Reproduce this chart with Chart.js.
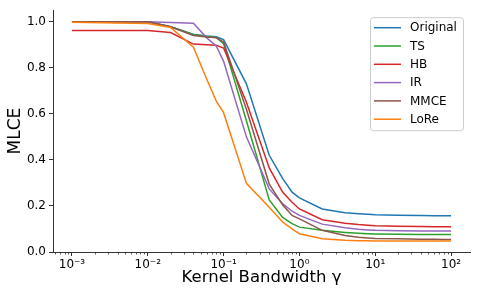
<!DOCTYPE html>
<html>
<head>
<meta charset="utf-8">
<script src="https://cdn.jsdelivr.net/npm/chart.js@4.4.1/dist/chart.umd.min.js"></script>
<style>
  html, body { margin: 0; padding: 0; background: #fff; }
  #c { display: block; }
</style>
</head>
<body>
<canvas id="c" width="479" height="299"></canvas>
<script>
// ---- data ----
const gammaValues = [0.001, 0.01, 0.02, 0.04, 0.06, 0.08, 0.1, 0.2, 0.4, 0.6, 0.8, 1, 2, 4, 6, 8, 10, 20, 40, 60, 80, 100];
const seriesNames = ['Original', 'TS', 'HB', 'IR', 'MMCE', 'LoRe'];
const original = [1.0, 1.0, 0.978, 0.945, 0.938, 0.935, 0.922, 0.73, 0.42, 0.32, 0.26, 0.235, 0.187, 0.170, 0.166, 0.164, 0.162, 0.160, 0.158, 0.157, 0.157, 0.157];
const ts       = [1.0, 1.0, 0.978, 0.945, 0.936, 0.932, 0.905, 0.57, 0.226, 0.15, 0.123, 0.108, 0.094, 0.085, 0.081, 0.079, 0.078, 0.077, 0.076, 0.076, 0.076, 0.076];
const hb       = [0.962, 0.962, 0.953, 0.903, 0.900, 0.898, 0.886, 0.65, 0.365, 0.26, 0.216, 0.187, 0.140, 0.125, 0.119, 0.116, 0.114, 0.112, 0.111, 0.110, 0.110, 0.110];
const ir       = [1.0, 1.0, 0.997, 0.993, 0.93, 0.895, 0.828, 0.50, 0.274, 0.21, 0.177, 0.159, 0.121, 0.105, 0.099, 0.096, 0.094, 0.092, 0.091, 0.091, 0.091, 0.091];
const mmce     = [1.0, 1.0, 0.978, 0.94, 0.934, 0.93, 0.912, 0.62, 0.295, 0.205, 0.159, 0.144, 0.094, 0.072, 0.064, 0.061, 0.059, 0.057, 0.055, 0.055, 0.054, 0.054];
const lore     = [0.998, 0.992, 0.975, 0.889, 0.75, 0.655, 0.605, 0.298, 0.194, 0.13, 0.10, 0.079, 0.058, 0.051, 0.049, 0.049, 0.048, 0.048, 0.048, 0.048, 0.048, 0.048];
const xTickValues = [0.001, 0.01, 0.1, 1, 10, 100];
const xTickLabels = ['10\u207B\u00B3', '10\u207B\u00B2', '10\u207B\u00B9', '10\u2070', '10\u00B9', '10\u00B2'];
const yTickValues = [0.0, 0.2, 0.4, 0.6, 0.8, 1.0];

// ---- styling ----
const seriesColors = ['#1f77b4', '#2ca02c', '#d62728', '#9467bd', '#8c564b', '#ff7f0e'];
const allSeries = [original, ts, hb, ir, mmce, lore];
const FONT = 'DejaVu Sans';
const AXIS = '#333333';

const datasets = allSeries.map((vals, i) => ({
  label: seriesNames[i],
  data: gammaValues.map((g, j) => ({ x: g, y: vals[j] })),
  borderColor: seriesColors[i],
  backgroundColor: seriesColors[i],
  borderWidth: 1.5,
  pointRadius: 0,
  tension: 0,
  fill: false,
  order: allSeries.length - i
}));

const minorTicks = {
  id: 'minorTicks',
  afterDraw(chart) {
    const s = chart.scales.x;
    const ctx = chart.ctx;
    const y0 = chart.chartArea.bottom;
    ctx.save();
    ctx.strokeStyle = AXIS;
    ctx.lineWidth = 0.8;
    for (let d = -4; d <= 2; d++) {
      for (let m = 2; m <= 9; m++) {
        const v = m * Math.pow(10, d);
        if (v < s.min || v > s.max) continue;
        const px = Math.round(s.getPixelForValue(v)) + 0.5;
        ctx.beginPath();
        ctx.moveTo(px, y0);
        ctx.lineTo(px, y0 + 2.5);
        ctx.stroke();
      }
    }
    ctx.restore();
  }
};

const boxLegend = {
  id: 'boxLegend',
  afterDraw(chart) {
    const ctx = chart.ctx;
    const ca = chart.chartArea;
    const w = 93, h = 113;
    const bx = ca.right - 7 - w, by = ca.top + 7;
    ctx.save();
    ctx.beginPath();
    ctx.roundRect(bx + 0.5, by + 0.5, w, h, 3);
    ctx.fillStyle = 'rgba(255,255,255,0.8)';
    ctx.fill();
    ctx.strokeStyle = '#cccccc';
    ctx.lineWidth = 1;
    ctx.stroke();
    ctx.font = '12px "' + FONT + '"';
    ctx.textBaseline = 'middle';
    ctx.textAlign = 'left';
    chart.data.datasets.forEach((ds, i) => {
      const yy = by + 10.5 + i * 18.3;
      ctx.beginPath();
      ctx.strokeStyle = ds.borderColor;
      ctx.lineWidth = 1.5;
      ctx.moveTo(bx + 4, yy);
      ctx.lineTo(bx + 31, yy);
      ctx.stroke();
      ctx.fillStyle = '#000';
      ctx.fillText(ds.label, bx + 40, yy + 0.5);
    });
    ctx.restore();
  }
};

new Chart(document.getElementById('c'), {
  type: 'line',
  data: { datasets },
  options: {
    responsive: false,
    animation: false,
    devicePixelRatio: 1,
    layout: { padding: { top: 8, right: 9, left: 0, bottom: 0 } },
    plugins: { legend: { display: false }, tooltip: { enabled: false } },
    scales: {
      x: {
        type: 'logarithmic',
        min: Math.pow(10, -3.25),
        max: Math.pow(10, 2.25),
        afterBuildTicks: s => { s.ticks = xTickValues.map(v => ({ value: v })); },
        afterFit: s => { s.height = 47; },
        ticks: {
          autoSkip: false, maxRotation: 0, padding: 2,
          color: '#000', font: { family: FONT, size: 12 },
          callback: (v) => { const k = xTickValues.findIndex(t => Math.abs(t - v) / t < 1e-6); return k >= 0 ? xTickLabels[k] : ''; }
        },
        grid: { drawOnChartArea: false, drawTicks: true, tickLength: 4, tickColor: AXIS, tickWidth: 1 },
        border: { display: true, color: AXIS, width: 1 },
        title: { display: true, text: 'Kernel Bandwidth γ', color: '#000', font: { family: FONT, size: 16.5 }, padding: { top: 0, bottom: 11 } }
      },
      y: {
        type: 'linear',
        min: 0,
        max: 1.05,
        afterBuildTicks: s => { s.ticks = yTickValues.map(v => ({ value: v })); },
        afterFit: s => { s.width = 53; },
        ticks: {
          autoSkip: false, padding: 3,
          color: '#000', font: { family: FONT, size: 12 },
          callback: v => Number(v).toFixed(1)
        },
        grid: { drawOnChartArea: false, drawTicks: true, tickLength: 4, tickColor: AXIS, tickWidth: 1 },
        border: { display: true, color: AXIS, width: 1 },
        title: { display: true, text: 'MLCE', color: '#000', font: { family: FONT, size: 17 }, padding: { top: 5, bottom: 0 } }
      }
    }
  },
  plugins: [minorTicks, boxLegend]
});
</script>
</body>
</html>
